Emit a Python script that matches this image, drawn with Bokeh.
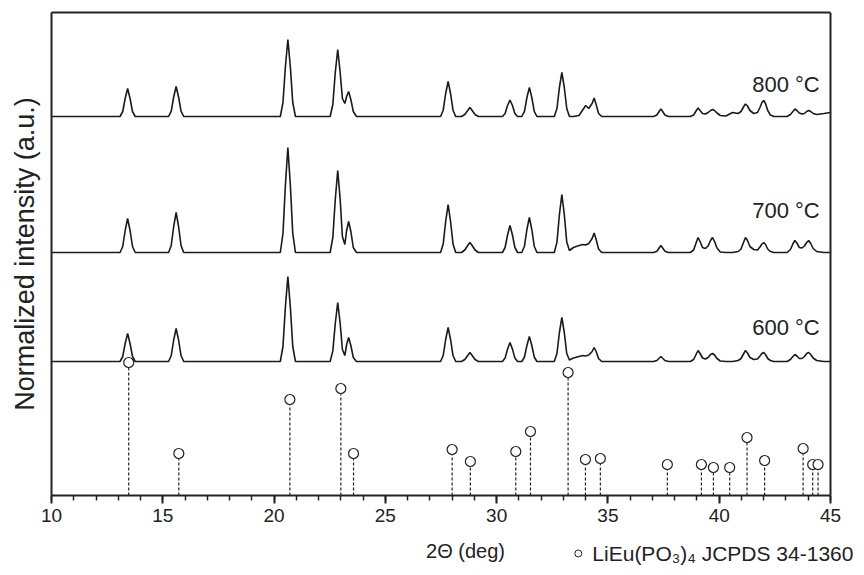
from bokeh.plotting import figure
from bokeh.layouts import column
from bokeh.models import Range1d, SingleIntervalTicker, FixedTicker, LinearAxis, Span
from bokeh.embed import file_html
from bokeh.resources import INLINE
from bokeh.core.properties import value

FONT = "Liberation Sans"
INK = "#222222"

# ---- data -------------------------------------------------------------
# shared 2-theta sampling points of the traced XRD patterns
two_theta = (
    [10.0]
    + [13.08, 13.20, 13.31, 13.42, 13.53, 13.64, 13.76]
    + [15.26, 15.38, 15.49, 15.60, 15.71, 15.82, 15.94]
    + [20.28, 20.40, 20.51, 20.62, 20.73, 20.84, 20.96]
    + [22.52, 22.64, 22.75, 22.86, 22.97, 23.07, 23.18, 23.26, 23.35, 23.45, 23.56, 23.70]
    + [27.48, 27.60, 27.71, 27.82, 27.93, 28.04, 28.16]
    + [28.42, 28.57, 28.70, 28.80, 28.90, 29.03, 29.18]
    + [30.26, 30.38, 30.49, 30.60, 30.71, 30.82, 30.94]
    + [31.13, 31.25, 31.36, 31.47, 31.58, 31.69, 31.81]
    + [32.59, 32.71, 32.82, 32.93, 33.04, 33.15, 33.27]
    + [33.45, 33.70, 33.88, 34.00, 34.14, 34.29, 34.38, 34.47, 34.58, 34.72]
    + [37.05, 37.20, 37.30, 37.38, 37.46, 37.56, 37.72]
    + [38.70, 38.85, 38.96, 39.05, 39.14, 39.25, 39.38, 39.50, 39.61, 39.70, 39.79, 39.90, 40.05]
    + [40.30, 40.60, 40.85, 40.98, 41.09, 41.18, 41.27, 41.38, 41.55, 41.72, 41.83, 41.92, 42.00, 42.08, 42.18, 42.30, 42.45]
    + [43.05, 43.20, 43.31, 43.40, 43.49, 43.60, 43.72, 43.83, 43.93, 44.02, 44.11, 44.22, 44.38]
    + [44.70, 45.00]
)

int_800 = (
    [0]
    + [0, 5, 18, 28, 18, 5, 0]
    + [0, 5.4, 19.5, 30, 19.5, 5.4, 0]
    + [0, 14, 50, 77, 50, 14, 0]
    + [0, 12, 44, 67, 44, 18, 13, 20, 25, 17, 5, 0]
    + [0, 6.3, 23, 35, 23, 6.3, 0]
    + [0, 2, 6, 9, 6, 2, 0]
    + [0, 3, 11, 16.5, 11, 3, 0]
    + [0, 5.2, 19, 29, 19, 5.2, 0]
    + [0, 8, 29, 44, 29, 8, 0]
    + [0, 1, 7, 11, 8, 13, 18.5, 12, 3, 0]
    + [0, 1.5, 5, 7.5, 5, 1.5, 0]
    + [0, 1.5, 5.5, 8.5, 6, 3, 2.5, 4, 6, 7, 6, 3.5, 1]
    + [0.5, 4, 3, 5, 9.5, 12.5, 10.5, 6, 3, 4, 9, 14, 16, 13, 6, 1.5, 0]
    + [0, 2, 5, 7.5, 6, 3.5, 2.5, 3, 5, 6, 5, 3, 2]
    + [3, 4]
)

int_700 = (
    [0]
    + [0, 6, 22, 34, 22, 6, 0]
    + [0, 7, 26, 40, 26, 7, 0]
    + [0, 19, 68, 105, 68, 19, 0]
    + [0, 15, 53, 82, 53, 16, 8, 22, 31, 21, 5, 0]
    + [0, 8.6, 31, 48, 31, 8.6, 0]
    + [0, 2.5, 7, 10, 7, 2.5, 0]
    + [0, 5, 17.5, 27, 17.5, 5, 0]
    + [0, 6.3, 23, 35, 23, 6.3, 0]
    + [0, 10.4, 38, 58, 38, 10.4, 2]
    + [5, 7, 8, 7.5, 9, 14, 19.5, 13, 3.5, 0]
    + [0, 1.3, 4.5, 7, 4.5, 1.3, 0]
    + [0, 2.5, 9.5, 15, 11, 5, 4, 6.5, 12, 15, 11, 4.5, 0.5]
    + [0, 0, 1, 3.5, 10, 15, 12, 6, 3, 2.5, 5.5, 8.5, 10, 8, 3.5, 1, 0]
    + [0, 3, 8.5, 12, 9.5, 5, 4.5, 6.5, 10, 12, 9, 4, 1]
    + [0, 0]
)

int_600 = (
    [0]
    + [0, 5, 18, 28, 18, 5, 0]
    + [0, 6, 21.5, 33, 21.5, 6, 0]
    + [0, 15, 55, 85, 55, 15, 0]
    + [0, 10.6, 38, 59, 38, 12, 6, 17, 24, 16, 4, 0]
    + [0, 6, 22, 34, 22, 6, 0]
    + [0, 2, 6, 9, 6, 2, 0]
    + [0, 3.4, 12.4, 19, 12.4, 3.4, 0]
    + [0, 4.5, 16, 25, 16, 4.5, 0]
    + [0, 8, 29, 44, 29, 8, 1.5]
    + [3.5, 5, 6, 5.5, 6.5, 10, 14, 10, 3, 0]
    + [0, 1, 3.2, 5, 3.2, 1, 0]
    + [0, 2, 7, 11, 8, 3.5, 2.5, 4, 7, 8, 6.5, 3, 0.5]
    + [0, 0, 1, 3, 7.5, 11, 8.5, 4, 2, 2.5, 5.5, 8, 9, 7, 3, 1, 0]
    + [0, 2, 5, 7, 5.5, 3, 3, 5, 8, 9, 7, 3.5, 1]
    + [0, 0]
)

series_names = ["600 °C", "700 °C", "800 °C"]
series_offsets = [134, 243, 379]          # vertical stacking of the patterns
series_values = [int_600, int_700, int_800]

# JCPDS 34-1360 reference lines
ref_pos = [13.47, 15.72, 20.71, 23.00, 23.57, 28.00, 28.82, 30.86, 31.52, 33.21,
           33.99, 34.66, 37.67, 39.20, 39.74, 40.47, 41.25, 42.04, 43.77, 44.20, 44.44]
ref_int = [133, 42, 96, 107, 42, 46, 34, 44, 64, 123,
           36, 37, 31, 31, 28, 28, 58, 35, 47, 31, 31]
ref_name = "LiEu(PO₃)₄ JCPDS 34-1360"
x_title = "2Θ (deg)"
y_title = "Normalized intensity (a.u.)"

# ---- layout constants --------------------------------------------------
X0, X1 = 10, 45
LEFT, RIGHT, TOP = 51, 34, 12
FRAME_W = 864 - LEFT - RIGHT
FRAME_H = 483
MAIN_BOTTOM = 40
FOOT_H = 575 - TOP - FRAME_H - MAIN_BOTTOM
px_per_deg = FRAME_W / (X1 - X0)
X_END = X1 + RIGHT / px_per_deg      # canvas extends to the page edge

# ---- main figure -------------------------------------------------------
p = figure(width=864, height=TOP + FRAME_H + MAIN_BOTTOM, output_backend="svg",
           toolbar_location=None,
           x_range=Range1d(X0, X_END), y_range=Range1d(0, FRAME_H),
           min_border_left=LEFT, min_border_right=0, min_border_top=TOP,
           min_border_bottom=MAIN_BOTTOM)
p.grid.visible = False
p.outline_line_color = None
p.background_fill_color = "white"
p.border_fill_color = "white"

ax = p.xaxis[0]
ax.bounds = (X0, X1)
ax.ticker = SingleIntervalTicker(interval=5, num_minor_ticks=5)
ax.axis_line_width = 2
ax.axis_line_color = INK
ax.major_tick_line_width = 2
ax.major_tick_line_color = INK
ax.minor_tick_line_width = 1.5
ax.minor_tick_line_color = INK
ax.major_tick_in = 0
ax.major_tick_out = 8
ax.minor_tick_in = 0
ax.minor_tick_out = 5
ax.major_label_text_font = FONT
ax.major_label_text_font_size = "19px"
ax.major_label_text_color = INK
ax.major_label_standoff = 5

ay = p.yaxis[0]
ay.ticker = FixedTicker(ticks=[])
ay.axis_line_width = 2
ay.axis_line_color = INK
ay.axis_label = y_title
ay.axis_label_text_font = FONT
ay.axis_label_text_font_style = "normal"
ay.axis_label_text_font_size = "27px"
ay.axis_label_text_color = INK
ay.axis_label_standoff = 12

# top and right edges of the plot box
top_edge = LinearAxis(bounds=(X0, X1), ticker=FixedTicker(ticks=[]),
                      axis_line_width=2, axis_line_color=INK,
                      major_tick_out=0, major_tick_in=0, minor_tick_out=0,
                      minor_tick_in=0, major_label_standoff=0)
p.add_layout(top_edge, "above")
p.add_layout(Span(location=X1, dimension="height", line_color=INK, line_width=2))

# patterns
for off, vals in zip(series_offsets, series_values):
    p.line(two_theta, [off + v for v in vals], line_color="#1a1a1a", line_width=1.6)

# reference sticks
p.segment(x0=ref_pos, y0=[0] * len(ref_pos), x1=ref_pos, y1=ref_int,
          line_color=INK, line_width=1.2, line_dash="3 2")
p.scatter(ref_pos, ref_int, marker="circle", size=10, fill_color="white",
          line_color=INK, line_width=1.2)

# temperature labels
label_dy = [34, 42, 32]
p.text(x=[43.0] * 3, y=[o + d for o, d in zip(series_offsets, label_dy)],
       text=series_names, text_font=value(FONT), text_font_size=value("22px"),
       text_color=INK, text_align="center", text_baseline="middle")

# ---- footer strip: x title and legend ---------------------------------
foot = figure(width=864, height=FOOT_H, output_backend="svg", toolbar_location=None,
              x_range=p.x_range, y_range=Range1d(0, FOOT_H),
              x_axis_type=None, y_axis_type=None,
              min_border_left=LEFT, min_border_right=0, min_border_top=0,
              min_border_bottom=0)
foot.grid.visible = False
foot.outline_line_color = None
foot.background_fill_color = "white"
foot.border_fill_color = "white"

foot.text(x=[28.6], y=[FOOT_H - 15], text=[x_title], text_font=value(FONT),
          text_font_size=value("20px"), text_color=INK,
          text_align="center", text_baseline="middle")
foot.scatter([33.67], [FOOT_H - 18], marker="circle", size=7, fill_color="white",
             line_color=INK, line_width=1)
foot.text(x=[34.3], y=[FOOT_H - 18], text=[ref_name], text_font=value(FONT),
          text_font_size=value("21px"), text_color=INK,
          text_align="left", text_baseline="middle")

layout = column(p, foot, spacing=0)
open("out.html", "w").write(file_html(layout, INLINE))
